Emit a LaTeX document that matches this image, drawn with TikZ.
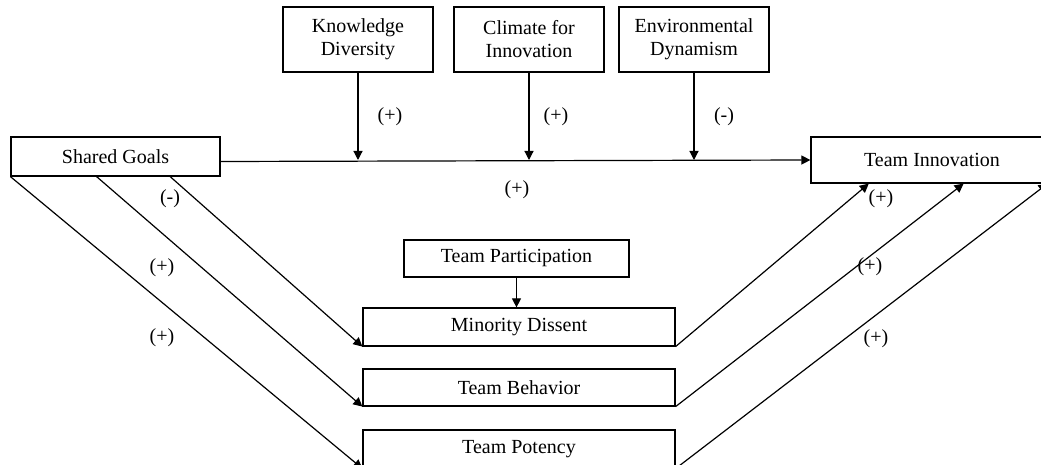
\documentclass[tikz,border=0pt]{standalone}
\usepackage{fontspec}
\setmainfont{Liberation Serif}
\usetikzlibrary{arrows.meta,calc}
\begin{document}
\begin{tikzpicture}[x=0.5pt,y=-0.5pt,
  box/.style={draw, line width=0.6pt, inner sep=0pt, align=center,
    font=\fontsize{10}{11.5}\selectfont},
  conn/.style={line width=0.6pt, -{Triangle[length=4.5pt,width=4.5pt]}},
  plain/.style={line width=0.6pt},
  lab/.style={font=\fontsize{10}{12}\selectfont, inner sep=0pt}]
\clip (0,0) rectangle (1041,465);
\fill[white] (0,0) rectangle (1041,465);
% boxes
\node[box, minimum width=104.5pt, minimum height=19.5pt] (sg) at (115.5,156.5) {Shared Goals};
\node[box, minimum width=121pt, minimum height=23pt] (ti) at (932,160) {Team Innovation};
\node[box, minimum width=75pt, minimum height=32.5pt] (kd) at (358,39.5) {Knowledge\\Diversity};
\node[box, minimum width=75pt, minimum height=32.5pt] (cl) at (529,39.5) {Climate for\\Innovation};
\node[box, minimum width=75pt, minimum height=32.5pt] (ed) at (694,39.5) {Environmental\\Dynamism};
\node[box, minimum width=112.5pt, minimum height=18.5pt] (tp) at (516.5,258.5) {Team Participation};
\node[box, minimum width=156pt, minimum height=19pt] (md) at (519,327) {Minority Dissent};
\node[box, minimum width=156pt, minimum height=18.5pt] (tb) at (519,387.5) {Team Behavior};
\node[box, minimum width=156pt, minimum height=19pt] (po) at (519,449) {Team Potency};
% main path
\coordinate (ms) at ([yshift=-2.5pt]sg.east);
\draw[conn] (ms) -- (ti.west);
\draw[conn] (kd.south) -- (kd.south |- ti.west);
\draw[conn] (cl.south) -- (cl.south |- ti.west);
\draw[conn] (ed.south) -- (ed.south |- ti.west);
\draw[conn] (tp.south) -- (md.north -| tp.south);
% left arrows
\draw[conn] ($(sg.south west)!0.76!(sg.south east)$) -- (md.south west);
\draw[conn] ($(sg.south west)!0.41!(sg.south east)$) -- (tb.south west);
\draw[conn] (sg.south west) -- (po.south west);
% right arrows
\draw[conn] (md.south east) -- ($(ti.south west)!0.24!(ti.south east)$);
\draw[conn] (tb.south east) -- ($(ti.south west)!0.63!(ti.south east)$);
\draw[conn] (po.south east) -- ($(ti.south west)!0.975!(ti.south east)$);
% labels
\node[lab] (l1) at (390,117) {(+)};
\node[lab] (l2) at (556,117) {(+)};
\node[lab] (l3) at (724,117) {(-)};
\node[lab] (l4) at (517,190) {(+)};
\node[lab] (l5) at (170,199) {(-)};
\node[lab] (l6) at (162,268) {(+)};
\node[lab] (l7) at (162,338) {(+)};
\node[lab] (l8) at (881,199) {(+)};
\node[lab] (l9) at (870,267) {(+)};
\node[lab] (l10) at (876,339) {(+)};
\end{tikzpicture}
\end{document}
